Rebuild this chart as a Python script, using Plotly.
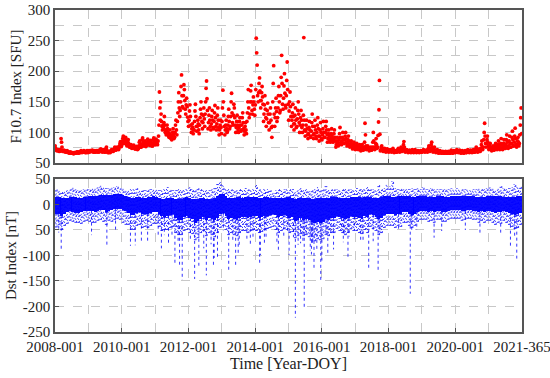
import datetime as dt
import plotly.graph_objects as go
from plotly.subplots import make_subplots

# ---------------- F10.7 daily-ish samples (6 readings per month) ----------------
f107_2008 = [[78,74,72,71,70,72],[72,70,71,69,70,72],[70,90,84,76,70,69],[70,71,69,70,68,69],
             [69,68,70,69,67,68],[67,66,67,68,66,67],[66,66,67,66,65,67],[67,66,67,66,67,68],
             [67,68,66,67,68,67],[67,68,70,69,67,68],[68,69,70,68,69,67],[68,67,69,70,68,67]]
f107_2009 = [[69,70,68,69,70,69],[70,69,71,70,68,69],[69,68,70,69,68,70],[69,70,68,70,69,68],
             [70,72,71,73,70,69],[68,70,72,69,71,68],[68,70,74,76,71,68],[67,68,67,69,68,67],
             [69,70,72,71,70,69],[70,72,74,76,72,71],[72,74,76,73,75,72],[75,78,82,85,80,77]]
f107_2010 = [[80,85,90,94,86,82],[84,88,92,86,80,78],[80,84,88,82,78,76],[76,78,80,75,74,77],
             [75,77,79,76,74,73],[73,75,77,74,72,73],[74,78,84,86,80,76],[76,80,88,91,84,78],
             [78,82,86,80,77,79],[80,84,89,86,82,80],[79,83,87,84,80,78],[78,82,88,91,85,80]]
f107_2011 = [[80,84,89,86,82,80],[86,94,112,166,140,120],[150,130,118,110,104,112],[108,116,126,112,100,104],
             [96,104,112,106,100,95],[92,98,104,96,90,94],[88,94,100,106,96,90],[92,100,112,120,104,96],
             [118,132,150,165,140,126],[136,150,175,194,160,142],[140,160,178,170,152,138],[130,145,156,142,125,118]]
f107_2012 = [[110,120,135,145,126,112],[100,106,114,108,98,104],[104,118,135,146,126,110],[102,110,120,114,104,98],
             [112,124,138,150,130,118],[106,116,128,140,122,110],[130,150,172,184,155,136],[106,116,128,140,120,110],
             [104,114,126,136,120,108],[106,118,132,144,124,110],[104,114,128,140,120,108],[96,104,112,120,108,98]]
f107_2013 = [[118,140,169,150,128,110],[96,104,112,120,106,100],[102,112,126,138,118,106],[110,126,150,164,132,116],
             [112,128,146,140,124,112],[100,108,118,128,112,104],[100,108,118,124,112,102],[104,112,124,132,116,106],
             [96,102,110,116,104,98],[118,132,150,170,140,124],[130,150,168,177,150,136],[130,145,158,150,138,128]]
f107_2014 = [[145,170,254,230,210,160],[150,165,180,189,168,152],[140,152,165,175,158,146],[118,130,145,160,138,124],
             [110,122,136,148,130,116],[104,116,130,140,120,108],[92,110,150,180,209,130],[110,124,140,156,134,118],
             [124,140,160,175,150,132],[136,160,190,226,180,146],[138,156,176,196,164,144],[140,160,185,215,170,146]]
f107_2015 = [[120,135,150,166,142,126],[110,120,132,146,126,114],[104,114,128,140,120,108],[110,122,136,150,130,116],
             [100,112,124,136,120,108],[100,112,128,255,120,104],[94,102,112,120,106,96],[90,98,108,118,104,94],
             [92,102,116,130,110,96],[90,98,110,120,104,94],[90,100,112,124,106,94],[86,94,104,116,100,90]]
f107_2016 = [[88,96,106,118,100,92],[92,100,110,118,104,96],[84,90,98,104,94,86],[84,90,98,106,94,88],
             [84,90,98,104,92,86],[76,80,86,92,84,78],[80,88,98,108,92,84],[80,86,92,100,88,82],
             [82,88,94,100,90,84],[78,82,88,94,86,80],[76,78,82,86,80,77],[73,76,80,84,78,74]]
f107_2017 = [[72,74,78,82,76,73],[72,74,76,80,75,73],[70,72,76,80,74,71],[72,76,84,115,96,78],
             [72,74,76,78,75,73],[70,72,74,76,73,71],[72,76,84,100,86,76],[72,76,82,90,80,74],
             [76,95,117,137,185,97],[70,72,76,78,74,71],[69,70,72,74,71,70],[68,70,72,73,71,69]]
f107_2018 = [[68,69,70,72,70,69],[68,70,72,74,70,69],[67,68,69,70,69,68],[68,70,72,74,71,69],
             [68,70,72,76,71,69],[70,74,80,85,76,71],[68,69,70,72,70,69],[67,68,69,71,69,68],
             [67,68,70,72,69,68],[67,68,70,72,69,68],[67,68,69,70,69,68],[67,68,69,70,69,68]]
f107_2019 = [[68,69,70,72,70,69],[68,69,70,71,70,69],[68,70,74,78,72,69],[70,74,80,84,76,71],
             [68,70,72,76,71,69],[67,68,70,72,69,68],[66,67,68,70,68,67],[66,67,68,69,67,66],
             [66,67,68,69,67,66],[66,67,68,69,67,66],[66,67,69,71,68,67],[66,67,68,70,68,67]]
f107_2020 = [[67,68,70,72,69,68],[67,68,70,71,69,68],[66,67,69,70,68,67],[66,67,69,70,68,67],
             [67,68,70,72,69,68],[67,68,70,71,69,68],[67,68,70,72,69,68],[68,70,73,76,72,69],
             [68,69,71,73,70,69],[70,74,80,86,76,72],[76,88,100,115,94,82],[76,82,88,94,84,78]]
f107_2021 = [[72,74,78,82,76,73],[70,72,74,78,73,71],[72,74,78,82,76,73],[72,76,80,86,78,74],
             [72,76,82,90,80,74],[72,76,82,88,78,74],[74,80,88,96,84,77],[74,78,86,94,82,76],
             [76,82,92,102,88,78],[78,84,94,107,90,80],[76,80,86,92,84,78],[82,96,112,124,140,98]]
years = list(range(2008, 2022))
f107_years = [f107_2008, f107_2009, f107_2010, f107_2011, f107_2012, f107_2013, f107_2014,
              f107_2015, f107_2016, f107_2017, f107_2018, f107_2019, f107_2020, f107_2021]

# ---------------- Dst monthly band (dense core and sparse outer envelope) ----------------
dst_core_hi = [14,14,12,12,12,14,14,14,12,12,14,14,
               16,16,16,16,18,18,18,18,18,20,20,20,
               18,16,14,12,12,14,14,12,12,14,14,16,
               14,12,10,10,12,12,12,10,10,10,12,14,
               12,10,10,10,12,12,10,10,10,12,16,20,
               20,16,12,12,12,14,14,12,14,14,14,14,
               14,12,12,14,14,12,12,12,12,12,12,14,
               14,12,10,12,12,12,12,12,10,10,12,12,
               12,12,12,14,14,14,12,12,12,12,14,14,
               14,14,12,14,14,14,12,12,12,14,16,16,
               16,14,14,16,16,16,16,16,14,14,16,16,
               16,16,14,14,14,16,16,16,14,14,16,16,
               16,16,16,16,16,16,16,14,14,14,14,16,
               16,16,16,16,16,14,14,14,14,14,16,16]
dst_core_lo = [-18,-18,-22,-18,-15,-12,-14,-16,-16,-14,-12,-12,
               -12,-12,-14,-12,-10,-10,-14,-12,-10,-8,-8,-8,
               -10,-12,-16,-20,-20,-16,-14,-18,-18,-18,-16,-14,
               -14,-18,-22,-24,-22,-20,-18,-26,-30,-30,-24,-22,
               -26,-28,-36,-32,-28,-24,-30,-26,-28,-30,-26,-18,
               -16,-22,-28,-26,-28,-30,-26,-24,-24,-26,-24,-22,
               -22,-26,-24,-22,-22,-20,-18,-20,-24,-22,-20,-22,
               -26,-24,-32,-30,-26,-30,-28,-30,-34,-36,-34,-36,
               -34,-28,-30,-26,-26,-22,-24,-26,-28,-26,-22,-24,
               -24,-26,-28,-22,-24,-18,-20,-24,-28,-26,-20,-18,
               -18,-18,-20,-18,-18,-14,-14,-18,-20,-18,-14,-12,
               -12,-12,-14,-12,-14,-12,-12,-14,-14,-12,-10,-10,
               -10,-10,-12,-12,-10,-10,-12,-12,-14,-12,-14,-12,
               -12,-14,-16,-14,-14,-12,-14,-16,-18,-20,-18,-16]
dst_out_hi = [30,28,26,26,28,30,34,30,28,28,30,30,
              30,32,32,34,40,34,32,32,34,34,36,32,
              32,30,28,30,30,32,30,28,28,30,30,32,
              30,28,28,30,34,30,28,28,30,28,30,32,
              34,30,28,32,30,28,30,28,30,32,40,46,
              38,32,30,30,28,30,30,30,32,30,30,30,
              40,30,28,32,30,28,26,28,30,28,30,32,
              30,30,28,30,34,28,30,30,28,30,34,28,
              32,36,30,30,30,30,28,30,32,30,30,30,
              32,30,30,32,34,30,30,28,40,30,32,40,
              36,46,32,30,32,30,30,30,32,30,32,30,
              34,30,30,32,30,30,30,30,30,30,32,30,
              32,30,30,30,30,28,30,30,32,30,30,32,
              34,32,30,32,36,32,30,32,34,40,34,36]
dst_out_lo = [-45,-40,-50,-42,-38,-32,-34,-36,-36,-38,-34,-32,
              -34,-36,-36,-32,-30,-34,-40,-32,-34,-30,-28,-30,
              -36,-40,-40,-50,-50,-42,-40,-46,-44,-46,-42,-38,
              -38,-44,-52,-50,-50,-46,-44,-56,-60,-60,-52,-50,
              -56,-58,-70,-66,-56,-52,-62,-56,-60,-64,-56,-46,
              -42,-50,-60,-56,-60,-62,-56,-52,-52,-56,-52,-50,
              -52,-56,-54,-50,-48,-46,-44,-50,-56,-52,-48,-50,
              -56,-54,-66,-62,-58,-62,-60,-64,-70,-72,-68,-70,
              -68,-60,-62,-56,-56,-48,-52,-56,-60,-56,-48,-52,
              -52,-56,-58,-50,-56,-44,-48,-52,-60,-56,-46,-42,
              -42,-42,-46,-42,-44,-36,-36,-42,-46,-42,-34,-30,
              -30,-30,-34,-32,-36,-30,-30,-34,-34,-30,-28,-28,
              -28,-28,-32,-30,-28,-28,-30,-30,-36,-32,-36,-32,
              -32,-36,-40,-36,-38,-32,-36,-40,-44,-48,-46,-40]

# ---------------- Dst storm minima ----------------
storm_dates = ["2008-02-11","2008-03-09","2009-02-04","2009-07-22","2009-10-25",
               "2010-04-06","2010-05-29","2010-08-04","2010-10-11",
               "2011-02-04","2011-03-11","2011-04-12","2011-05-28","2011-07-05","2011-08-06",
               "2011-09-10","2011-09-26","2011-10-25",
               "2012-01-22","2012-03-09","2012-04-24","2012-06-17","2012-07-15","2012-09-05",
               "2012-10-01","2012-10-09","2012-11-14",
               "2013-01-17","2013-03-17","2013-05-01","2013-06-01","2013-06-29","2013-07-10",
               "2013-10-02","2013-11-09","2013-12-08",
               "2014-02-19","2014-02-27","2014-04-12","2014-04-30","2014-08-27","2014-09-12",
               "2014-11-10","2014-12-22",
               "2015-01-07","2015-02-24","2015-03-17","2015-04-16","2015-05-13","2015-06-08",
               "2015-06-22","2015-07-13","2015-08-27","2015-09-09","2015-09-20","2015-10-07",
               "2015-11-07","2015-12-20",
               "2016-01-01","2016-02-16","2016-03-06","2016-04-08","2016-05-08","2016-08-03",
               "2016-08-23","2016-09-01","2016-10-13","2016-10-25","2016-12-21",
               "2017-03-01","2017-03-27","2017-05-28","2017-07-16","2017-09-08","2017-09-28",
               "2018-04-20","2018-08-26","2018-09-11","2018-11-05",
               "2019-05-14","2019-08-05","2020-04-20","2020-09-27",
               "2021-05-12","2021-08-27","2021-10-12","2021-11-04"]
storm_min = [-55,-88,-60,-83,-55,
             -81,-80,-74,-75,
             -63,-86,-60,-80,-60,-120,
             -75,-118,-148,
             -71,-146,-120,-86,-139,-78,
             -122,-105,-108,
             -52,-130,-72,-122,-98,-80,
             -67,-80,-66,
             -118,-99,-80,-67,-79,-90,
             -65,-57,
             -99,-64,-222,-79,-76,-73,
             -205,-61,-90,-98,-75,-124,
             -89,-153,
             -110,-60,-98,-60,-88,-52,
             -74,-60,-104,-63,-50,
             -75,-74,-126,-72,-128,-55,
             -50,-175,-50,-50,
             -65,-52,-50,-58,
             -60,-83,-63,-106]

# ---------------- axis tick labels ----------------
x_tick_dates = ["2008-01-01","2010-01-01","2012-01-01","2014-01-01","2016-01-01",
                "2018-01-01","2020-01-01","2021-12-31"]
x_tick_text = ["2008-001","2010-001","2012-001","2014-001","2016-001",
               "2018-001","2020-001","2021-365"]
f107_ticks = [50, 100, 150, 200, 250, 300]
dst_ticks = [50, 0, -50, -100, -150, -200, -250]
dst_tick_text = ["50", "0", "50", "-100", "-150", "-200", "-250"]

# ---------------- build traces ----------------
fx, fy = [], []
for yr, months in zip(years, f107_years):
    for m, vals in enumerate(months):
        for i, v in enumerate(vals):
            fx.append(dt.datetime(yr, m + 1, 2 + 5 * i, 12))
            fy.append(v)

month_mid = [dt.datetime(yr, m, 15) for yr in years for m in range(1, 13)]
month_q1 = [dt.datetime(yr, m, 6) for yr in years for m in range(1, 13)]
month_q3 = [dt.datetime(yr, m, 24) for yr in years for m in range(1, 13)]
month_ms = 31 * 86400000

fig = make_subplots(rows=2, cols=1, shared_xaxes=True, vertical_spacing=0.05)

fig.add_trace(go.Scatter(x=fx, y=fy, mode="markers",
                         marker=dict(color="#ff0000", size=3.8, line=dict(width=0)),
                         showlegend=False), row=1, col=1)

# sparse outer envelope: dotted vertical strokes per month (three strokes, varied dashes)
for xs, dash in ((month_q1, "1px,3px"), (month_mid, "1px,2px"), (month_q3, "2px,4px")):
    ox, oy = [], []
    for d, lo, hi in zip(xs, dst_out_lo, dst_out_hi):
        ox += [d, d, None]
        oy += [lo, hi, None]
    fig.add_trace(go.Scatter(x=ox, y=oy, mode="lines",
                             line=dict(color="rgba(0,0,255,0.8)", width=1, dash=dash),
                             showlegend=False), row=2, col=1)

fig.add_trace(go.Bar(x=month_mid, base=dst_core_lo,
                     y=[h - l for h, l in zip(dst_core_hi, dst_core_lo)],
                     width=month_ms, marker=dict(color="rgba(0,0,255,0.95)", line=dict(width=0)),
                     showlegend=False), row=2, col=1)

month_index = {(d.year, d.month): k for k, d in enumerate(month_mid)}
sx, sy = [], []
for ds, v in zip(storm_dates, storm_min):
    d = dt.datetime.strptime(ds, "%Y-%m-%d")
    lo = dst_core_lo[month_index[(d.year, d.month)]]
    sx += [d, d, None]
    sy += [lo, v, None]
fig.add_trace(go.Scatter(x=sx, y=sy, mode="lines",
                         line=dict(color="rgba(0,0,255,0.8)", width=1, dash="dot"),
                         showlegend=False), row=2, col=1)

font_family = "Liberation Serif, Times New Roman, serif"
grid_col = "#c8c8c8"
axis_col = "#555555"

xcommon = dict(type="date", range=["2008-01-01", "2021-12-31 12:00"],
               tickvals=x_tick_dates, ticktext=x_tick_text, automargin=False,
               ticklabeloverflow="allow",
               showgrid=True, gridcolor=grid_col, griddash="dash", gridwidth=1,
               minor=dict(dtick="M12", tick0="2008-01-01", showgrid=True,
                          gridcolor=grid_col, griddash="dash", gridwidth=1, ticks=""),
               showline=True, linecolor=axis_col, linewidth=1.5, mirror=True,
               ticks="inside", ticklen=4, tickcolor=axis_col, zeroline=False,
               tickfont=dict(size=15))
fig.update_xaxes(**xcommon)
fig.update_xaxes(showticklabels=False, row=1, col=1)
fig.update_xaxes(showticklabels=True, row=2, col=1,
                 title=dict(text="Time [Year-DOY]", standoff=4, font=dict(size=16)))

fig.update_yaxes(showline=True, linecolor=axis_col, linewidth=1.5, mirror=True,
                 ticks="inside", ticklen=4, tickcolor=axis_col, zeroline=False, automargin=False,
                 showgrid=True, gridcolor=grid_col, griddash="dash", gridwidth=1,
                 tickfont=dict(size=15))
fig.update_yaxes(range=[50, 300], tickvals=f107_ticks,
                 minor=dict(dtick=25, showgrid=True, gridcolor=grid_col, griddash="dash", ticks=""),
                 title=dict(text="F10.7 Index [SFU]", standoff=2, font=dict(size=15)), row=1, col=1)
fig.update_yaxes(range=[-250, 50], tickvals=dst_ticks, ticktext=dst_tick_text,
                 title=dict(text="Dst Index [nT]", standoff=2, font=dict(size=15)), row=2, col=1)

fig.update_layout(
    width=550, height=378,
    margin=dict(l=55, r=28, t=10, b=46),
    paper_bgcolor="white", plot_bgcolor="white",
    font=dict(family=font_family, size=15, color="#222222"),
    barmode="overlay", bargap=0,
)
fig.layout.yaxis.domain = [0.5248, 1.0]
fig.layout.yaxis2.domain = [0.0, 0.4752]

fig.write_html("out.html", config={"displayModeBar": False},
               post_script="document.body.style.margin='0';document.body.style.padding='0';")
